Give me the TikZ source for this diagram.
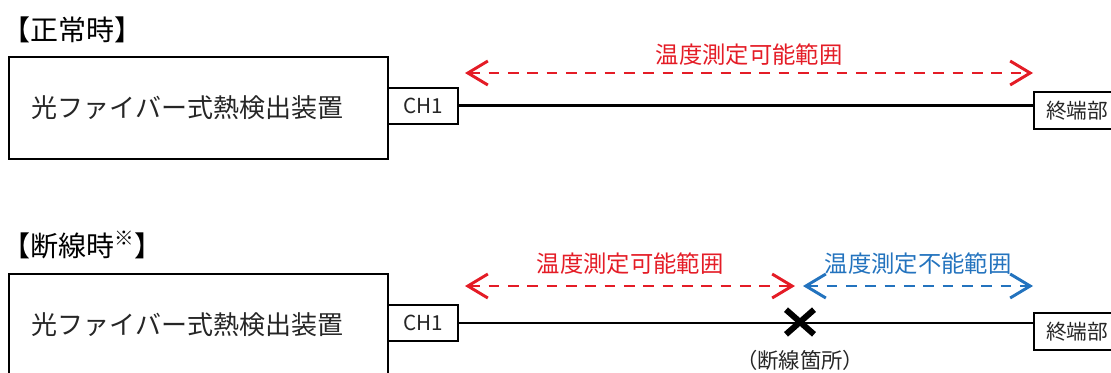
\documentclass[tikz,border=0pt]{standalone}
\usepackage{fontspec}
\setmainfont{Noto Sans CJK JP}
\usetikzlibrary{arrows.meta,positioning,shapes.misc}
\definecolor{rangered}{RGB}{228,28,38}
\definecolor{rangeblue}{RGB}{35,115,190}

\begin{document}
\begin{tikzpicture}[
    x=0.75pt, y=-0.75pt,
    >={Straight Barb[length=15pt,width=18pt]},
    heading/.style={anchor=west, inner sep=0pt, font=\fontsize{21pt}{24pt}\selectfont},
    device/.style={draw, line width=1.6pt, anchor=north west, minimum width=284pt, minimum height=76.5pt, inner sep=0pt, text=black!85, font=\fontsize{19.5pt}{24pt}\selectfont},
    port/.style={draw, line width=1.4pt, anchor=north west, minimum width=52.5pt, minimum height=27pt, inner sep=0pt, text=black!85, font=\fontsize{15.5pt}{18pt}\selectfont},
    terminal/.style={draw, line width=1.5pt, anchor=north west, minimum width=64.5pt, minimum height=28pt, inner sep=0pt, text=black!85, font=\fontsize{15.5pt}{18pt}\selectfont},
    rangearrow/.style={<->, line width=2.2pt, dash pattern=on 8pt off 6.5pt},
    rangelabel/.style={inner sep=0pt, font=\fontsize{17.5pt}{20pt}\selectfont},
    breaknote/.style={inner sep=0pt, text=black!85, font=\fontsize{16pt}{18pt}\selectfont}
]
    \useasboundingbox (0,0) rectangle (1111,372);

    % normal state
    \node[heading] (hdNormal) at (2,30) {【正常時】};
    \node[device] (devA) at (8,56) {\hspace*{-16pt}光ファイバー式熱検出装置};
    \node[port] (chA) at (387,87) {CH1};
    \node[terminal] (endA) at (1033,91) {終端部};
    \draw[line width=2.2pt] (chA.east) -- (chA.east -| endA.west);
    \coordinate (okA1) at (465,73);
    \coordinate (okA2) at (1033,73);
    \draw[rangearrow, rangered] (okA1) -- node[rangelabel, yshift=13.5pt] (lblA) {温度測定可能範囲} (okA2);

    % broken fiber
    \node[heading] (hdBreak) at (2,245) {【断線時\textsuperscript{※}】};
    \node[device] (devB) at (8,273) {\hspace*{-16pt}光ファイバー式熱検出装置};
    \node[port] (chB) at (387,304) {CH1};
    \node[terminal] (endB) at (1033,312) {終端部};
    \draw[line width=1.2pt] (chB.east) -- (chB.east -| endB.west);
    \node[cross out, draw, line width=4.5pt, minimum width=16.5pt, minimum height=14pt, inner sep=0pt] (brk) at (800,322) {};
    \node[breaknote, below=12pt of brk] (brkNote) {（断線箇所）};
    \coordinate (okB1) at (465,286);
    \coordinate (okB2) at (795,286);
    \coordinate (ngB1) at (803,286);
    \coordinate (ngB2) at (1033,286);
    \draw[rangearrow, rangered] (okB1) -- node[rangelabel, yshift=17pt] (lblB) {温度測定可能範囲} (okB2);
    \draw[rangearrow, rangeblue] (ngB1) -- node[rangelabel, yshift=17pt] (lblC) {温度測定不能範囲} (ngB2);
\end{tikzpicture}
\end{document}
